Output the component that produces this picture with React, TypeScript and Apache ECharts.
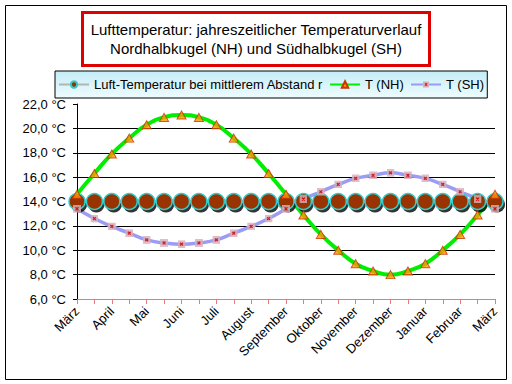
import React, { useEffect, useRef } from "react";
import * as echarts from "echarts";

const months = ["März", "April", "Mai", "Juni", "Juli", "August", "September", "Oktober", "November", "Dezember", "Januar", "Februar", "März"];
// half-month steps: every month plus its middle
const categories: string[] = months.flatMap((m, i) => (i < months.length - 1 ? [m, m + " (Mitte)"] : [m]));

const tMean = [14, 14, 14, 14, 14, 14, 14, 14, 14, 14, 14, 14, 14, 14, 14, 14, 14, 14, 14, 14, 14, 14, 14, 14, 14];
const tNH = [14.6, 16.3, 17.9, 19.2, 20.3, 20.9, 21.1, 20.9, 20.3, 19.2, 17.9, 16.3, 14.6, 12.9, 11.3, 10.0, 8.9, 8.3, 8.0, 8.3, 8.9, 10.0, 11.3, 12.9, 14.6];
const tSH = [13.4, 12.6, 11.95, 11.4, 10.85, 10.6, 10.5, 10.6, 10.85, 11.4, 11.95, 12.6, 13.4, 14.2, 14.8, 15.4, 15.9, 16.15, 16.35, 16.15, 15.9, 15.4, 14.8, 14.2, 13.4];

const titleText = "Lufttemperatur: jahreszeitlicher Temperaturverlauf\nNordhalbkugel (NH) und Südhalbkugel (SH)";
const nameMean = "Luft-Temperatur bei mittlerem Abstand r";
const nameNH = "T (NH)";
const nameSH = "T (SH)";

const FONT = "'Liberation Sans', Arial, sans-serif";

const shSvg =
  "<svg xmlns='http://www.w3.org/2000/svg' width='8' height='8'><rect width='8' height='8' fill='#d8b0b8'/><path d='M2.6 2.6L5.4 5.4M5.4 2.6L2.6 5.4' stroke='#e00000' stroke-width='1.3'/></svg>";
const shSymbol = "image://data:image/svg+xml;charset=utf-8," + encodeURIComponent(shSvg);

export default function App() {
  const ref = useRef<HTMLDivElement>(null);
  useEffect(() => {
    document.body.style.margin = "0";
    const chart = echarts.init(ref.current!, undefined, { renderer: "svg" });
    chart.setOption({
      animation: false,
      backgroundColor: "#ffffff",
      textStyle: { fontFamily: FONT },
      title: {
        text: titleText,
        left: "center",
        top: 12,
        padding: [8, 8, 8, 8],
        borderColor: "#e00000",
        borderWidth: 3,
        backgroundColor: "#ffffff",
        textStyle: { fontFamily: FONT, fontSize: 15, fontWeight: "normal", color: "#000", lineHeight: 19 },
      },
      legend: {
        data: [nameMean, nameNH, nameSH],
        left: 55,
        top: 71,
        itemWidth: 30,
        itemHeight: 8,
        itemGap: 6,
        padding: [7, 3, 7, 3],
        borderColor: "#000",
        borderWidth: 1,
        backgroundColor: new echarts.graphic.LinearGradient(0, 0, 0, 1, [
          { offset: 0, color: "#c4ecf6" },
          { offset: 1, color: "#eefcff" },
        ]),
        textStyle: { fontFamily: FONT, fontSize: 13, color: "#000" },
      },
      graphic: [
        {
          type: "rect",
          shape: { x: 5.5, y: 5.5, width: 501, height: 374 },
          style: { fill: "none", stroke: "#000", lineWidth: 1 },
          silent: true,
          z: 0,
        },
      ],
      grid: { left: 77, right: 17, top: 104, bottom: 85 },
      xAxis: {
        type: "category",
        data: categories,
        boundaryGap: false,
        axisLine: { lineStyle: { color: "#e87a7a", width: 1 } },
        axisTick: { show: true, interval: 0, length: 5, lineStyle: { color: "#e87a7a" } },
        axisLabel: { interval: 1, rotate: 45, margin: 10, fontSize: 13, color: "#000", fontFamily: FONT },
        splitLine: { show: false },
      },
      yAxis: {
        type: "value",
        min: 6,
        max: 22,
        interval: 2,
        axisLine: { show: true, lineStyle: { color: "#000" } },
        axisTick: { show: true, length: 4, lineStyle: { color: "#000" } },
        axisLabel: {
          margin: 11,
          fontSize: 13,
          color: "#000",
          fontFamily: FONT,
          formatter: (v: number) => v.toFixed(1).replace(".", ",") + " °C",
        },
        splitLine: { show: true, showMinLine: false, showMaxLine: false, lineStyle: { color: "#000", width: 1 } },
      },
      series: [
        {
          name: nameNH,
          type: "line",
          data: tNH,
          smooth: true,
          showSymbol: false,
          symbol: "triangle",
          symbolSize: 9,
          itemStyle: { color: "#ff9900", borderColor: "#cc3300", borderWidth: 1 },
          lineStyle: { color: "#00ee00", width: 4 },
          z: 2,
        },
        {
          name: nameSH,
          type: "line",
          data: tSH,
          smooth: true,
          showSymbol: false,
          symbol: shSymbol,
          symbolSize: 8,
          itemStyle: { color: "#d8b0b8" },
          lineStyle: { color: "#9c9cf4", width: 3.5 },
          z: 2,
        },
        {
          type: "scatter",
          data: tMean,
          symbol: "circle",
          symbolSize: 16,
          symbolOffset: [2, 3],
          itemStyle: { color: "#000" },
          silent: true,
          z: 3,
        },
        {
          name: nameMean,
          type: "line",
          data: tMean,
          symbol: "circle",
          symbolSize: 16,
          showAllSymbol: true,
          itemStyle: { color: "#993300", borderColor: "#33cccc", borderWidth: 1.5 },
          lineStyle: { color: "#b4b4b4", width: 3 },
          z: 4,
        },
        {
          type: "scatter",
          data: tNH,
          symbol: "triangle",
          symbolSize: [9, 8],
          itemStyle: { color: "#ff9900", borderColor: "#cc3300", borderWidth: 1 },
          silent: true,
          z: 5,
        },
        {
          type: "scatter",
          data: tSH,
          symbol: shSymbol,
          symbolSize: 8,
          silent: true,
          z: 5,
        },
      ],
    });
    return () => chart.dispose();
  }, []);
  return <div ref={ref} style={{ width: 512, height: 384 }} />;
}
